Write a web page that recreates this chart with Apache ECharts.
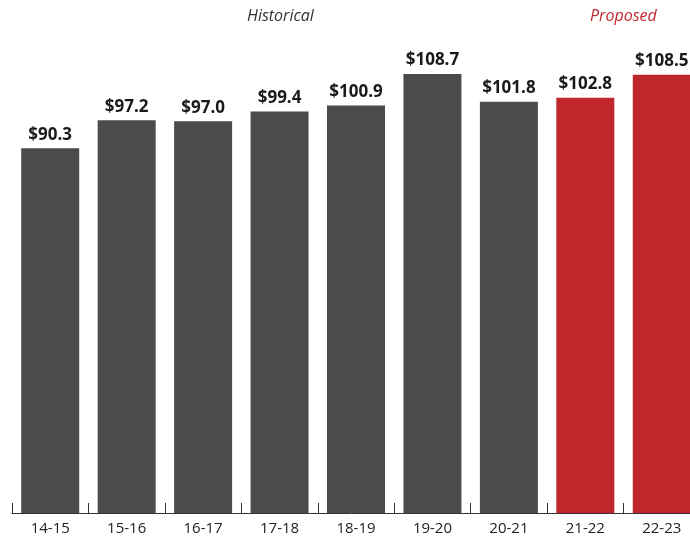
<!DOCTYPE html>
<html>
<head>
<meta charset="utf-8">
<script src="https://cdn.jsdelivr.net/npm/echarts@6/dist/echarts.min.js"></script>
<style>
  html, body { margin: 0; padding: 0; background: #fff; }
  #chart { width: 690px; height: 537px; }
</style>
</head>
<body>
<div id="chart"></div>
<script>
const years = ['14-15', '15-16', '16-17', '17-18', '18-19', '19-20', '20-21', '21-22', '22-23']
const amounts = [90.3, 97.2, 97.0, 99.4, 100.9, 108.7, 101.8, 102.8, 108.5]
const proposed = [false, false, false, false, false, false, false, true, true]

const grey = '#4b4b4b'
const red = '#c0272d'
const font = '"Open Sans", "Noto Sans", sans-serif'

const chart = echarts.init(document.getElementById('chart'))

const option = {
    animation: false,
    grid: { left: 12, top: 0, width: 688, bottom: 24, containLabel: false, outerBoundsMode: 'none' },
    xAxis: {
        type: 'category',
        data: years,
        axisLine: { lineStyle: { color: '#333', width: 1 } },
        axisTick: { show: true, inside: true, length: 10, interval: 0, lineStyle: { color: '#333', width: 1 } },
        axisLabel: { color: '#222', fontSize: 15, fontFamily: font, margin: 8 }
    },
    yAxis: {
        type: 'value',
        min: 0,
        max: 127,
        show: false,
        splitLine: { show: false }
    },
    graphic: [
        {
            type: 'text', left: 247, top: 8,
            style: { text: 'Historical', fill: '#333', font: 'italic 16px ' + font }
        },
        {
            type: 'text', left: 590, top: 8,
            style: { text: 'Proposed', fill: red, font: 'italic 16px ' + font }
        }
    ],
    series: [{
        type: 'bar',
        barWidth: 58,
        data: amounts.map((v, i) => ({
            value: v,
            itemStyle: { color: proposed[i] ? red : grey }
        })),
        label: {
            show: true,
            position: 'top',
            distance: 5,
            color: '#1a1a1a',
            fontSize: 17,
            fontWeight: 'bold',
            fontFamily: font,
            formatter: p => '$' + p.value.toFixed(1)
        }
    }]
}

chart.setOption(option)
</script>
</body>
</html>
